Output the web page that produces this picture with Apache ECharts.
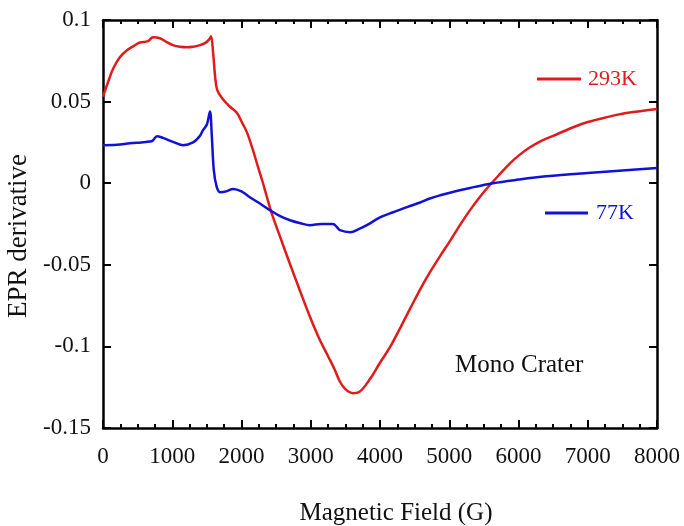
<!DOCTYPE html>
<html>
<head>
<meta charset="utf-8">
<script src="https://cdn.jsdelivr.net/npm/echarts@6/dist/echarts.min.js"></script>
<style>
  html, body { margin: 0; padding: 0; background: #fff; }
  #chart { width: 684px; height: 526px; }
</style>
</head>
<body>
<div id="chart"></div>
<script>
// 293K curve (field in G, derivative value)
const redField = [0, 40, 90, 144, 240, 346, 440, 534, 650, 722, 823, 920, 1010, 1110, 1213, 1300, 1400, 1480, 1530, 1560,
  1590, 1620, 1650, 1720, 1830, 1935, 2010, 2080, 2160, 2238, 2300, 2368, 2440, 2550, 2700, 2850, 2990, 3120, 3250,
  3350, 3420, 3500, 3610, 3700, 3856, 4000, 4144, 4300, 4433, 4600, 4722, 4870, 5010, 5150, 5300, 5450, 5600, 5740,
  5877, 6020, 6166, 6310, 6500, 6790, 7000, 7278, 7500, 7755, 8000];
const redValues = [0.053, 0.058, 0.064, 0.070, 0.077, 0.0815, 0.084, 0.0862, 0.087, 0.0895, 0.0888, 0.0865, 0.0846, 0.0836,
  0.0833, 0.0836, 0.0846, 0.086, 0.088, 0.090,
  0.080, 0.065, 0.057, 0.052, 0.047, 0.043, 0.037, 0.031, 0.021, 0.010, 0.0015, -0.0086, -0.019, -0.032, -0.0495, -0.0665,
  -0.082, -0.095, -0.106, -0.1146, -0.1215, -0.1262, -0.1287, -0.128, -0.120, -0.110, -0.1005, -0.088, -0.077, -0.0635,
  -0.0545, -0.0445, -0.0355, -0.026, -0.0165, -0.008, -0.0005, 0.006, 0.0122, 0.0175, 0.022, 0.0255, 0.029, 0.0343,
  0.0375, 0.0405, 0.0425, 0.0441, 0.0455];

// 77K curve
const blueField = [0, 200, 390, 550, 680, 720, 780, 866, 1000, 1155, 1300, 1400, 1444, 1500, 1545, 1570, 1600, 1640, 1690,
  1780, 1880, 2000, 2120, 2250, 2410, 2550, 2700, 2850, 2990, 3150, 3320, 3380, 3420, 3570, 3700, 3810, 4000, 4190,
  4400, 4580, 4720, 4870, 5010, 5300, 5630, 6000, 6400, 7000, 7500, 8000];
const blueValues = [0.0233, 0.0235, 0.0245, 0.025, 0.0255, 0.0262, 0.0288, 0.0278, 0.0255, 0.0233, 0.025, 0.029, 0.0325,
  0.036, 0.044, 0.030, 0.008, -0.002, -0.0055, -0.005, -0.0035, -0.005, -0.0086, -0.012, -0.0165, -0.020, -0.0227,
  -0.0245, -0.0257, -0.025, -0.025, -0.027, -0.0288, -0.030, -0.028, -0.0257, -0.021, -0.0178, -0.0145, -0.0118,
  -0.0094, -0.0074, -0.0058, -0.0029, 0.0, 0.0022, 0.0042, 0.0063, 0.0078, 0.0093];

const xTicks = [0, 1000, 2000, 3000, 4000, 5000, 6000, 7000, 8000];
const yTicks = [-0.15, -0.1, -0.05, 0, 0.05, 0.1];

const red = '#e01b1b';
const blue = '#1212d6';
const font = '"Liberation Serif", serif';

function pairs(xs, ys) {
  return xs.map((x, i) => [x, ys[i]]);
}

const frameAxis = {
  axisLine: { show: true, onZero: false, lineStyle: { color: '#000', width: 2.5 } },
  splitLine: { show: false },
};

const chart = echarts.init(document.getElementById('chart'));
chart.setOption({
  animation: false,
  grid: { left: 103, right: 27, top: 20, bottom: 98, outerBoundsMode: 'none' },
  legend: [
    {
      data: ['293K'], left: 537, top: 68, padding: 0, icon: 'rect', itemWidth: 44, itemHeight: 3,
      selectedMode: false,
      textStyle: { color: red, fontSize: 22, fontFamily: font, padding: [0, 0, 0, 2] },
    },
    {
      data: ['77K'], left: 545, top: 202, padding: 0, icon: 'rect', itemWidth: 43, itemHeight: 3,
      selectedMode: false,
      textStyle: { color: blue, fontSize: 22, fontFamily: font, padding: [0, 0, 0, 3] },
    },
  ],
  graphic: [
    {
      type: 'text', left: 455, top: 353,
      style: { text: 'Mono Crater', fill: '#111', font: '25px ' + font },
    },
  ],
  xAxis: [
    Object.assign({}, frameAxis, {
      type: 'value', min: xTicks[0], max: xTicks[xTicks.length - 1], interval: 1000,
      name: 'Magnetic Field (G)', nameLocation: 'middle', nameGap: 73,
      nameTextStyle: { color: '#111', fontSize: 25, fontFamily: font, padding: [0, 0, 0, 32] },
      axisTick: { inside: true, length: 8, lineStyle: { color: '#000', width: 2 } },
      minorTick: { show: true, splitNumber: 4, length: 4, lineStyle: { color: '#000', width: 2 } },
      axisLabel: { color: '#111', fontSize: 23, fontFamily: font, margin: 17, formatter: (v) => String(v) },
    }),
    Object.assign({}, frameAxis, {
      type: 'value', position: 'top', min: xTicks[0], max: xTicks[xTicks.length - 1], interval: 1000,
      axisTick: { inside: true, length: 8, lineStyle: { color: '#000', width: 2 } },
      minorTick: { show: true, splitNumber: 4, length: 4, lineStyle: { color: '#000', width: 2 } },
      axisLabel: { show: false },
    }),
  ],
  yAxis: [
    Object.assign({}, frameAxis, {
      type: 'value', min: yTicks[0], max: yTicks[yTicks.length - 1], interval: 0.05,
      name: 'EPR derivative', nameLocation: 'middle', nameGap: 60,
      nameTextStyle: { color: '#111', fontSize: 27, fontFamily: font, padding: [0, 24, 0, 0] },
      axisTick: { inside: true, length: 8, lineStyle: { color: '#000', width: 2 } },
      axisLabel: {
        color: '#111', fontSize: 23, fontFamily: font, margin: 12,
        formatter: (v) => String(+v.toFixed(2)),
      },
    }),
    Object.assign({}, frameAxis, {
      type: 'value', position: 'right', min: yTicks[0], max: yTicks[yTicks.length - 1], interval: 0.05,
      axisTick: { inside: true, length: 8, lineStyle: { color: '#000', width: 2 } },
      axisLabel: { show: false },
    }),
  ],
  series: [
    {
      name: '293K', type: 'line', data: pairs(redField, redValues), showSymbol: false, symbol: 'none',
      smooth: 0.35, lineStyle: { color: red, width: 2.5 }, itemStyle: { color: red },
    },
    {
      name: '77K', type: 'line', data: pairs(blueField, blueValues), showSymbol: false, symbol: 'none',
      smooth: 0.35, lineStyle: { color: blue, width: 2.5 }, itemStyle: { color: blue },
    },
  ],
});
</script>
</body>
</html>
